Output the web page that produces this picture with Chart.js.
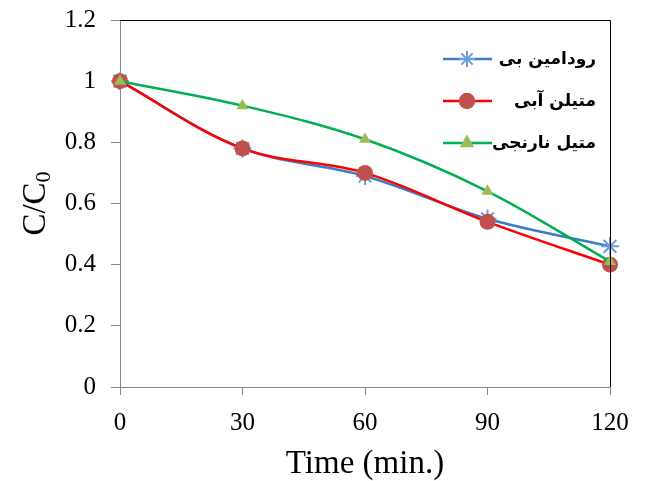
<!DOCTYPE html>
<html>
<head>
<meta charset="utf-8">
<script src="https://cdn.jsdelivr.net/npm/chart.js@4/dist/chart.umd.min.js"></script>
<style>
  html, body { margin: 0; padding: 0; background: #fff; }
  #wrap { width: 646px; height: 481px; }
</style>
</head>
<body>
<div id="wrap"><canvas id="chart" width="646" height="481"></canvas></div>
<script>
// data
const times = [0, 30, 60, 90, 120];
const rhodamineB = [1, 0.78, 0.69, 0.55, 0.46];
const methyleneBlue = [1, 0.78, 0.70, 0.54, 0.40];
const methylOrange = [1, 0.92, 0.81, 0.64, 0.41];
const seriesNames = ['رودامین بی', 'متیلن آبی', 'متیل نارنجی'];
const yTicks = [0, 0.2, 0.4, 0.6, 0.8, 1, 1.2];
const xTicks = [0, 30, 60, 90, 120];

const toPoints = (vals) => vals.map((v, i) => ({ x: times[i], y: v }));

const axisGray = '#868686';
const serif = "'Liberation Serif', 'Times New Roman', serif";

const series = [
    { label: seriesNames[0], data: toPoints(rhodamineB), borderColor: '#3A7CC6', pointStyle: 'star',
      pointRadius: 9, pointBorderColor: '#6E9BDA', pointBackgroundColor: '#6E9BDA', pointBorderWidth: 2, order: 3 },
    { label: seriesNames[1], data: toPoints(methyleneBlue), borderColor: '#FF0000', pointStyle: 'circle',
      pointRadius: 8, pointBorderColor: '#C0504D', pointBackgroundColor: '#C0504D', pointBorderWidth: 0, order: 2 },
    { label: seriesNames[2], data: toPoints(methylOrange), borderColor: '#00B050', pointStyle: 'triangle',
      pointRadius: 7, pointBorderColor: '#9BBB59', pointBackgroundColor: '#9BBB59', pointBorderWidth: 0, order: 1 }
];

// frame on top/right, y title with subscript, and the line+marker legend
const extras = {
    id: 'extras',
    afterDraw(chart) {
        const ctx = chart.ctx;
        const a = chart.chartArea;
        ctx.save();
        ctx.strokeStyle = '#000';
        ctx.lineWidth = 1;
        ctx.beginPath();
        ctx.moveTo(a.left, a.top + 0.5);
        ctx.lineTo(a.right + 0.5, a.top + 0.5);
        ctx.lineTo(a.right + 0.5, a.bottom);
        ctx.stroke();

        // y title "C/C0"
        ctx.translate(36, (a.top + a.bottom) / 2);
        ctx.rotate(-Math.PI / 2);
        ctx.fillStyle = '#000';
        ctx.textBaseline = 'middle';
        const main = 'C/C';
        ctx.font = '33px ' + serif;
        const w1 = ctx.measureText(main).width;
        ctx.font = '22px ' + serif;
        const w2 = ctx.measureText('0').width;
        const x0 = -(w1 + w2) / 2;
        ctx.font = '33px ' + serif;
        ctx.textAlign = 'left';
        ctx.fillText(main, x0, 0);
        ctx.font = '22px ' + serif;
        ctx.fillText('0', x0 + w1, 8);
        ctx.restore();

        // legend
        ctx.save();
        const rows = [59, 101, 143];
        series.forEach((s, i) => {
            const y = rows[i];
            ctx.strokeStyle = s.borderColor;
            ctx.lineWidth = 2.5;
            ctx.beginPath();
            ctx.moveTo(443, y);
            ctx.lineTo(492, y);
            ctx.stroke();
            ctx.fillStyle = s.pointBackgroundColor;
            ctx.strokeStyle = s.pointBorderColor;
            ctx.lineWidth = s.pointStyle === 'star' ? 2 : 0;
            Chart.helpers.drawPoint(ctx, { pointStyle: s.pointStyle, radius: s.pointRadius - 1, rotation: 0,
                borderWidth: ctx.lineWidth }, 467, y);
            ctx.fillStyle = '#000';
            ctx.font = "bold 17px 'DejaVu Sans', sans-serif";
            ctx.direction = 'rtl';
            ctx.textAlign = 'right';
            ctx.textBaseline = 'middle';
            ctx.fillText(s.label, 596, y + 1);
        });
        ctx.restore();
    }
};

new Chart(document.getElementById('chart'), {
    type: 'line',
    data: {
        datasets: series.map(s => ({
            ...s,
            borderWidth: 2.5,
            tension: 0.35,
            fill: false,
            clip: false
        }))
    },
    options: {
        responsive: false,
        animation: false,
        layout: { padding: { left: 0, top: 20, right: 36, bottom: 0 } },
        plugins: { legend: { display: false }, tooltip: { enabled: false } },
        scales: {
            x: {
                type: 'linear',
                min: 0,
                max: 120,
                afterBuildTicks: (scale) => { scale.ticks = xTicks.map(v => ({ value: v })); },
                afterFit: (scale) => { scale.height = 94; },
                grid: { drawOnChartArea: false, color: axisGray, tickLength: 8 },
                border: { color: axisGray, width: 1 },
                ticks: { color: '#000', font: { family: serif, size: 25 }, padding: 13, maxRotation: 0 },
                title: { display: true, text: 'Time (min.)', color: '#000',
                    font: { family: serif, size: 33, lineHeight: 1 }, padding: 0 }
            },
            y: {
                min: 0,
                max: 1.2,
                afterBuildTicks: (scale) => { scale.ticks = yTicks.map(v => ({ value: v })); },
                afterFit: (scale) => { scale.width = 120; scale.paddingTop = 0; scale.paddingBottom = 0; },
                grid: { drawOnChartArea: false, color: axisGray, tickLength: 9 },
                border: { color: axisGray, width: 1 },
                ticks: { color: '#000', font: { family: serif, size: 25 }, padding: 15,
                    callback: (v) => String(+v.toFixed(1)) }
            }
        }
    },
    plugins: [extras]
});
</script>
</body>
</html>
